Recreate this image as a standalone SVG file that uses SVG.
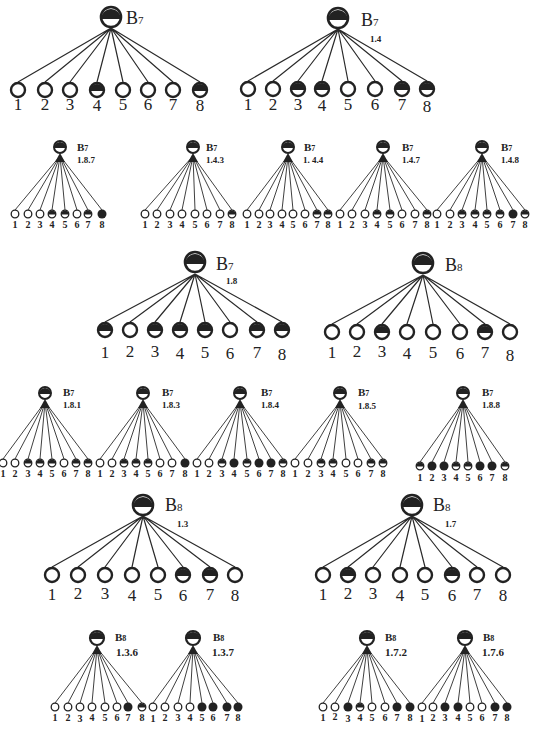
<svg xmlns="http://www.w3.org/2000/svg" xmlns:xlink="http://www.w3.org/1999/xlink" width="533" height="729" viewBox="0 0 533 729">
<style>
.ln{stroke:#2a2a2a;stroke-width:1.2;fill:none}
.ls{stroke:#2a2a2a;stroke-width:0.9;fill:none}
.n{font-family:"Liberation Serif",serif;font-size:17px;fill:#222;text-anchor:middle}
.s{font-family:"Liberation Serif",serif;font-size:10px;font-weight:bold;fill:#222;text-anchor:middle}
.bl{font-family:"Liberation Serif",serif;font-size:18px;fill:#222}
.bs{font-family:"Liberation Serif",serif;font-size:11px;font-weight:bold;fill:#222}
.sub{font-family:"Liberation Serif",serif;font-size:9px;font-weight:bold;fill:#222}
.dk{fill:#222}
.wc{fill:#fff;stroke:#222}
</style>
<defs>
<g id="oL"><circle class="wc" r="7" stroke-width="2.4"/></g>
<g id="hL"><circle class="wc" r="7" stroke-width="2.4"/><path class="dk" d="M-7,1A7,7 0 0 1 7,1Z"/></g>
<g id="fL"><circle class="dk" r="8"/></g>
<g id="oS"><circle class="wc" r="3.8" stroke-width="1.3"/></g>
<g id="hS"><circle class="wc" r="3.8" stroke-width="1.3"/><path class="dk" d="M-3.8,0.5A3.8,3.8 0 0 1 3.8,0.5Z"/></g>
<g id="fS"><circle class="dk" r="4.5"/></g>
<g id="rL"><circle class="wc" r="10" stroke-width="2.6"/><path class="dk" d="M-10,2A10,10 0 0 1 10,2Z"/></g>
<g id="rS"><polygon class="dk" points="0,6 -5,15 5,15"/><circle class="wc" r="6" stroke-width="2"/><path class="dk" d="M-6,1A6,6 0 0 1 6,1Z"/></g>
<g id="rM"><polygon class="dk" points="0,7 -5,16 5,16"/><circle class="wc" r="7" stroke-width="2.2"/><path class="dk" d="M-7,1A7,7 0 0 1 7,1Z"/></g>
</defs>

<g id="connectors">
<path class="ln" d="M111 28L18 82M111 28L45 82M111 28L70 82M111 28L97 82M111 28L123 82M111 28L148 82M111 28L173 82M111 28L200 82"/>
<path class="ln" d="M338 29L248 81M338 29L273 81M338 29L298 81M338 29L322 81M338 29L348 81M338 29L375 81M338 29L402 81M338 29L427 81"/>
<path class="ls" d="M60 156L15 210M60 156L28 210M60 156L40 210M60 156L52 210M60 156L65 210M60 156L77 210M60 156L88 210M60 156L102 210"/>
<path class="ls" d="M193 156L145 210M193 156L157 210M193 156L170 210M193 156L182 210M193 156L195 210M193 156L207 210M193 156L220 210M193 156L232 210"/>
<path class="ls" d="M288 156L247 210M288 156L259 210M288 156L270 210M288 156L282 210M288 156L293 210M288 156L305 210M288 156L317 210M288 156L328 210"/>
<path class="ls" d="M383 156L340 210M383 156L352 210M383 156L365 210M383 156L377 210M383 156L390 210M383 156L402 210M383 156L415 210M383 156L427 210"/>
<path class="ls" d="M482 156L437 210M482 156L450 210M482 156L462 210M482 156L475 210M482 156L487 210M482 156L500 210M482 156L513 210M482 156L525 210"/>
<path class="ln" d="M195 274L105 322M195 274L130 322M195 274L155 322M195 274L180 322M195 274L205 322M195 274L230 322M195 274L257 322M195 274L282 322"/>
<path class="ln" d="M423 275L332 324M423 275L357 324M423 275L382 324M423 275L407 324M423 275L433 324M423 275L460 324M423 275L485 324M423 275L510 324"/>
<path class="ls" d="M45 402L3 459M45 402L15 459M45 402L28 459M45 402L40 459M45 402L52 459M45 402L64 459M45 402L76 459M45 402L88 459"/>
<path class="ls" d="M143 402L100 459M143 402L112 459M143 402L124 459M143 402L136 459M143 402L148 459M143 402L160 459M143 402L172 459M143 402L185 459"/>
<path class="ls" d="M240 402L197 459M240 402L209 459M240 402L222 459M240 402L234 459M240 402L247 459M240 402L259 459M240 402L271 459M240 402L283 459"/>
<path class="ls" d="M340 402L295 459M340 402L308 459M340 402L321 459M340 402L333 459M340 402L346 459M340 402L358 459M340 402L371 459M340 402L383 459"/>
<path class="ls" d="M463 402L420 462M463 402L432 462M463 402L444 462M463 402L456 462M463 402L468 462M463 402L480 462M463 402L492 462M463 402L505 462"/>
<path class="ln" d="M143 516L52 567M143 516L78 567M143 516L105 567M143 516L132 567M143 516L158 567M143 516L183 567M143 516L210 567M143 516L235 567"/>
<path class="ln" d="M412 516L323 567M412 516L348 567M412 516L373 567M412 516L400 567M412 516L425 567M412 516L452 567M412 516L477 567M412 516L503 567"/>
<path class="ls" d="M97 648L55 703M97 648L68 703M97 648L80 703M97 648L92 703M97 648L105 703M97 648L117 703M97 648L128 703M97 648L142 703"/>
<path class="ls" d="M193 648L153 703M193 648L165 703M193 648L178 703M193 648L190 703M193 648L202 703M193 648L213 703M193 648L227 703M193 648L238 703"/>
<path class="ls" d="M367 648L323 703M367 648L335 703M367 648L348 703M367 648L360 703M367 648L372 703M367 648L385 703M367 648L397 703M367 648L410 703"/>
<path class="ls" d="M465 648L422 703M465 648L433 703M465 648L445 703M465 648L458 703M465 648L470 703M465 648L482 703M465 648L495 703M465 648L507 703"/>
</g>

<!-- Tree 1 -->
<g id="t1-root"><use href="#rL" x="111" y="17"/><text class="bl" x="126" y="24">B<tspan font-size="11">7</tspan></text></g>
<g id="t1-1"><use href="#oL" x="18" y="90"/><text class="n" x="18" y="110">1</text></g>
<g id="t1-2"><use href="#oL" x="45" y="90"/><text class="n" x="45" y="110">2</text></g>
<g id="t1-3"><use href="#oL" x="70" y="90"/><text class="n" x="70" y="110">3</text></g>
<g id="t1-4"><use href="#hL" x="97" y="90"/><text class="n" x="97" y="111">4</text></g>
<g id="t1-5"><use href="#oL" x="123" y="90"/><text class="n" x="123" y="110">5</text></g>
<g id="t1-6"><use href="#oL" x="148" y="90"/><text class="n" x="148" y="110">6</text></g>
<g id="t1-7"><use href="#oL" x="173" y="90"/><text class="n" x="173" y="110">7</text></g>
<g id="t1-8"><use href="#hL" x="200" y="90"/><text class="n" x="200" y="111">8</text></g>

<!-- Tree 2 -->
<g id="t2-root"><use href="#rL" x="338" y="18"/><text class="bl" x="361" y="26">B<tspan font-size="11">7</tspan></text><text class="sub" x="370" y="42" font-weight="normal" font-size="10">1.4</text></g>
<g id="t2-1"><use href="#oL" x="248" y="89"/><text class="n" x="248" y="110">1</text></g>
<g id="t2-2"><use href="#oL" x="273" y="89"/><text class="n" x="273" y="110">2</text></g>
<g id="t2-3"><use href="#hL" x="298" y="89"/><text class="n" x="298" y="110">3</text></g>
<g id="t2-4"><use href="#hL" x="322" y="89"/><text class="n" x="322" y="111">4</text></g>
<g id="t2-5"><use href="#oL" x="348" y="89"/><text class="n" x="348" y="110">5</text></g>
<g id="t2-6"><use href="#oL" x="375" y="89"/><text class="n" x="375" y="110">6</text></g>
<g id="t2-7"><use href="#hL" x="402" y="89"/><text class="n" x="402" y="110">7</text></g>
<g id="t2-8"><use href="#hL" x="427" y="89"/><text class="n" x="427" y="112">8</text></g>

<!-- Row 2 -->
<g id="a-root"><use href="#rS" x="60" y="147"/><text class="bs" x="77" y="151">B<tspan font-size="8">7</tspan></text><text class="sub" x="77" y="163">1.8.7</text></g>
<g id="a-1"><use href="#oS" x="15" y="214"/><text class="s" x="15" y="228">1</text></g>
<g id="a-2"><use href="#oS" x="28" y="214"/><text class="s" x="28" y="228">2</text></g>
<g id="a-3"><use href="#oS" x="40" y="214"/><text class="s" x="40" y="228">3</text></g>
<g id="a-4"><use href="#hS" x="52" y="214"/><text class="s" x="52" y="228">4</text></g>
<g id="a-5"><use href="#hS" x="65" y="214"/><text class="s" x="65" y="228">5</text></g>
<g id="a-6"><use href="#oS" x="77" y="214"/><text class="s" x="77" y="228">6</text></g>
<g id="a-7"><use href="#hS" x="88" y="214"/><text class="s" x="88" y="228">7</text></g>
<g id="a-8"><use href="#fS" x="102" y="214"/><text class="s" x="102" y="228">8</text></g>

<g id="b-root"><use href="#rS" x="193" y="147"/><text class="bs" x="206" y="151">B<tspan font-size="8">7</tspan></text><text class="sub" x="206" y="163">1.4.3</text></g>
<g id="b-1"><use href="#oS" x="145" y="214"/><text class="s" x="145" y="228">1</text></g>
<g id="b-2"><use href="#oS" x="157" y="214"/><text class="s" x="157" y="228">2</text></g>
<g id="b-3"><use href="#oS" x="170" y="214"/><text class="s" x="170" y="228">3</text></g>
<g id="b-4"><use href="#oS" x="182" y="214"/><text class="s" x="182" y="228">4</text></g>
<g id="b-5"><use href="#oS" x="195" y="214"/><text class="s" x="195" y="228">5</text></g>
<g id="b-6"><use href="#oS" x="207" y="214"/><text class="s" x="207" y="228">6</text></g>
<g id="b-7"><use href="#oS" x="220" y="214"/><text class="s" x="220" y="228">7</text></g>
<g id="b-8"><use href="#hS" x="232" y="214"/><text class="s" x="232" y="228">8</text></g>

<g id="c-root"><use href="#rS" x="288" y="147"/><text class="bs" x="304" y="151">B<tspan font-size="8">7</tspan></text><text class="sub" x="303" y="163">1. 4.4</text></g>
<g id="c-1"><use href="#oS" x="247" y="214"/><text class="s" x="247" y="228">1</text></g>
<g id="c-2"><use href="#oS" x="259" y="214"/><text class="s" x="259" y="228">2</text></g>
<g id="c-3"><use href="#oS" x="270" y="214"/><text class="s" x="270" y="228">3</text></g>
<g id="c-4"><use href="#oS" x="282" y="214"/><text class="s" x="282" y="228">4</text></g>
<g id="c-5"><use href="#oS" x="293" y="214"/><text class="s" x="293" y="228">5</text></g>
<g id="c-6"><use href="#oS" x="305" y="214"/><text class="s" x="305" y="228">6</text></g>
<g id="c-7"><use href="#hS" x="317" y="214"/><text class="s" x="317" y="228">7</text></g>
<g id="c-8"><use href="#hS" x="328" y="214"/><text class="s" x="328" y="228">8</text></g>

<g id="d-root"><use href="#rS" x="383" y="147"/><text class="bs" x="402" y="151">B<tspan font-size="8">7</tspan></text><text class="sub" x="402" y="163">1.4.7</text></g>
<g id="d-1"><use href="#oS" x="340" y="214"/><text class="s" x="340" y="228">1</text></g>
<g id="d-2"><use href="#oS" x="352" y="214"/><text class="s" x="352" y="228">2</text></g>
<g id="d-3"><use href="#oS" x="365" y="214"/><text class="s" x="365" y="228">3</text></g>
<g id="d-4"><use href="#hS" x="377" y="214"/><text class="s" x="377" y="228">4</text></g>
<g id="d-5"><use href="#hS" x="390" y="214"/><text class="s" x="390" y="228">5</text></g>
<g id="d-6"><use href="#oS" x="402" y="214"/><text class="s" x="402" y="228">6</text></g>
<g id="d-7"><use href="#oS" x="415" y="214"/><text class="s" x="415" y="228">7</text></g>
<g id="d-8"><use href="#hS" x="427" y="214"/><text class="s" x="427" y="228">8</text></g>

<g id="e-root"><use href="#rS" x="482" y="147"/><text class="bs" x="501" y="151">B<tspan font-size="8">7</tspan></text><text class="sub" x="501" y="163">1.4.8</text></g>
<g id="e-1"><use href="#oS" x="437" y="214"/><text class="s" x="437" y="228">1</text></g>
<g id="e-2"><use href="#oS" x="450" y="214"/><text class="s" x="450" y="228">2</text></g>
<g id="e-3"><use href="#hS" x="462" y="214"/><text class="s" x="462" y="228">3</text></g>
<g id="e-4"><use href="#hS" x="475" y="214"/><text class="s" x="475" y="228">4</text></g>
<g id="e-5"><use href="#hS" x="487" y="214"/><text class="s" x="487" y="228">5</text></g>
<g id="e-6"><use href="#hS" x="500" y="214"/><text class="s" x="500" y="228">6</text></g>
<g id="e-7"><use href="#fS" x="513" y="214"/><text class="s" x="513" y="228">7</text></g>
<g id="e-8"><use href="#hS" x="525" y="214"/><text class="s" x="525" y="228">8</text></g>

<!-- Row 3 -->
<g id="t3-root"><use href="#rL" x="195" y="262"/><text class="bl" x="216" y="270">B<tspan font-size="11">7</tspan></text><text class="sub" x="226" y="284" font-size="10">1.8</text></g>
<g id="t3-1"><use href="#hL" x="105" y="330"/><text class="n" x="105" y="358">1</text></g>
<g id="t3-2"><use href="#oL" x="130" y="330"/><text class="n" x="130" y="357">2</text></g>
<g id="t3-3"><use href="#hL" x="155" y="330"/><text class="n" x="155" y="357">3</text></g>
<g id="t3-4"><use href="#hL" x="180" y="330"/><text class="n" x="180" y="359">4</text></g>
<g id="t3-5"><use href="#hL" x="205" y="330"/><text class="n" x="205" y="358">5</text></g>
<g id="t3-6"><use href="#oL" x="230" y="330"/><text class="n" x="230" y="359">6</text></g>
<g id="t3-7"><use href="#hL" x="257" y="330"/><text class="n" x="257" y="358">7</text></g>
<g id="t3-8"><use href="#hL" x="282" y="330"/><text class="n" x="282" y="360">8</text></g>

<g id="u-root"><use href="#rL" x="423" y="263"/><text class="bl" x="445" y="271">B<tspan font-size="11">8</tspan></text></g>
<g id="u-1"><use href="#oL" x="332" y="332"/><text class="n" x="332" y="358">1</text></g>
<g id="u-2"><use href="#oL" x="357" y="332"/><text class="n" x="357" y="357">2</text></g>
<g id="u-3"><use href="#hL" x="382" y="332"/><text class="n" x="382" y="357">3</text></g>
<g id="u-4"><use href="#oL" x="407" y="332"/><text class="n" x="407" y="359">4</text></g>
<g id="u-5"><use href="#oL" x="433" y="332"/><text class="n" x="433" y="358">5</text></g>
<g id="u-6"><use href="#oL" x="460" y="332"/><text class="n" x="460" y="359">6</text></g>
<g id="u-7"><use href="#hL" x="485" y="332"/><text class="n" x="485" y="358">7</text></g>
<g id="u-8"><use href="#oL" x="510" y="332"/><text class="n" x="510" y="361">8</text></g>

<!-- Row 4 -->
<g id="p1-root"><use href="#rS" x="45" y="393"/><text class="bs" x="63" y="396">B<tspan font-size="8">7</tspan></text><text class="sub" x="63" y="408">1.8.1</text></g>
<g id="p1-1"><use href="#oS" x="3" y="463"/><text class="s" x="3" y="477">1</text></g>
<g id="p1-2"><use href="#oS" x="15" y="463"/><text class="s" x="15" y="477">2</text></g>
<g id="p1-3"><use href="#hS" x="28" y="463"/><text class="s" x="28" y="477">3</text></g>
<g id="p1-4"><use href="#hS" x="40" y="463"/><text class="s" x="40" y="477">4</text></g>
<g id="p1-5"><use href="#hS" x="52" y="463"/><text class="s" x="52" y="477">5</text></g>
<g id="p1-6"><use href="#oS" x="64" y="463"/><text class="s" x="64" y="477">6</text></g>
<g id="p1-7"><use href="#hS" x="76" y="463"/><text class="s" x="76" y="477">7</text></g>
<g id="p1-8"><use href="#hS" x="88" y="463"/><text class="s" x="88" y="477">8</text></g>

<g id="p2-root"><use href="#rS" x="143" y="393"/><text class="bs" x="162" y="396">B<tspan font-size="8">7</tspan></text><text class="sub" x="162" y="408">1.8.3</text></g>
<g id="p2-1"><use href="#oS" x="100" y="463"/><text class="s" x="100" y="477">1</text></g>
<g id="p2-2"><use href="#oS" x="112" y="463"/><text class="s" x="112" y="477">2</text></g>
<g id="p2-3"><use href="#hS" x="124" y="463"/><text class="s" x="124" y="477">3</text></g>
<g id="p2-4"><use href="#hS" x="136" y="463"/><text class="s" x="136" y="477">4</text></g>
<g id="p2-5"><use href="#hS" x="148" y="463"/><text class="s" x="148" y="477">5</text></g>
<g id="p2-6"><use href="#oS" x="160" y="463"/><text class="s" x="160" y="477">6</text></g>
<g id="p2-7"><use href="#oS" x="172" y="463"/><text class="s" x="172" y="477">7</text></g>
<g id="p2-8"><use href="#fS" x="185" y="463"/><text class="s" x="185" y="477">8</text></g>

<g id="p3-root"><use href="#rS" x="240" y="393"/><text class="bs" x="261" y="396">B<tspan font-size="8">7</tspan></text><text class="sub" x="261" y="408">1.8.4</text></g>
<g id="p3-1"><use href="#oS" x="197" y="463"/><text class="s" x="197" y="477">1</text></g>
<g id="p3-2"><use href="#oS" x="209" y="463"/><text class="s" x="209" y="477">2</text></g>
<g id="p3-3"><use href="#hS" x="222" y="463"/><text class="s" x="222" y="477">3</text></g>
<g id="p3-4"><use href="#fS" x="234" y="463"/><text class="s" x="234" y="477">4</text></g>
<g id="p3-5"><use href="#hS" x="247" y="463"/><text class="s" x="247" y="477">5</text></g>
<g id="p3-6"><use href="#fS" x="259" y="463"/><text class="s" x="259" y="477">6</text></g>
<g id="p3-7"><use href="#fS" x="271" y="463"/><text class="s" x="271" y="477">7</text></g>
<g id="p3-8"><use href="#hS" x="283" y="463"/><text class="s" x="283" y="477">8</text></g>

<g id="p4-root"><use href="#rS" x="340" y="393"/><text class="bs" x="358" y="396">B<tspan font-size="8">7</tspan></text><text class="sub" x="358" y="409">1.8.5</text></g>
<g id="p4-1"><use href="#oS" x="295" y="463"/><text class="s" x="295" y="477">1</text></g>
<g id="p4-2"><use href="#oS" x="308" y="463"/><text class="s" x="308" y="477">2</text></g>
<g id="p4-3"><use href="#hS" x="321" y="463"/><text class="s" x="321" y="477">3</text></g>
<g id="p4-4"><use href="#hS" x="333" y="463"/><text class="s" x="333" y="477">4</text></g>
<g id="p4-5"><use href="#oS" x="346" y="463"/><text class="s" x="346" y="477">5</text></g>
<g id="p4-6"><use href="#oS" x="358" y="463"/><text class="s" x="358" y="477">6</text></g>
<g id="p4-7"><use href="#hS" x="371" y="463"/><text class="s" x="371" y="477">7</text></g>
<g id="p4-8"><use href="#hS" x="383" y="463"/><text class="s" x="383" y="477">8</text></g>

<g id="p5-root"><use href="#rS" x="463" y="393"/><text class="bs" x="482" y="396">B<tspan font-size="8">7</tspan></text><text class="sub" x="482" y="408">1.8.8</text></g>
<g id="p5-1"><use href="#hS" x="420" y="466"/><text class="s" x="420" y="481">1</text></g>
<g id="p5-2"><use href="#fS" x="432" y="466"/><text class="s" x="432" y="481">2</text></g>
<g id="p5-3"><use href="#fS" x="444" y="466"/><text class="s" x="444" y="481">3</text></g>
<g id="p5-4"><use href="#hS" x="456" y="466"/><text class="s" x="456" y="481">4</text></g>
<g id="p5-5"><use href="#hS" x="468" y="466"/><text class="s" x="468" y="481">5</text></g>
<g id="p5-6"><use href="#fS" x="480" y="466"/><text class="s" x="480" y="481">6</text></g>
<g id="p5-7"><use href="#fS" x="492" y="466"/><text class="s" x="492" y="481">7</text></g>
<g id="p5-8"><use href="#hS" x="505" y="466"/><text class="s" x="505" y="481">8</text></g>

<!-- Row 5 -->
<g id="q1-root"><use href="#rL" x="143" y="505"/><text class="bl" x="165" y="511">B<tspan font-size="11">8</tspan></text><text class="sub" x="177" y="527" font-size="10">1.3</text></g>
<g id="q1-1"><use href="#oL" x="52" y="575"/><text class="n" x="52" y="600">1</text></g>
<g id="q1-2"><use href="#oL" x="78" y="575"/><text class="n" x="78" y="599">2</text></g>
<g id="q1-3"><use href="#oL" x="105" y="575"/><text class="n" x="105" y="599">3</text></g>
<g id="q1-4"><use href="#oL" x="132" y="575"/><text class="n" x="132" y="601">4</text></g>
<g id="q1-5"><use href="#oL" x="158" y="575"/><text class="n" x="158" y="600">5</text></g>
<g id="q1-6"><use href="#hL" x="183" y="575"/><text class="n" x="183" y="601">6</text></g>
<g id="q1-7"><use href="#hL" x="210" y="575"/><text class="n" x="210" y="600">7</text></g>
<g id="q1-8"><use href="#oL" x="235" y="575"/><text class="n" x="235" y="601">8</text></g>

<g id="q2-root"><use href="#rL" x="412" y="505"/><text class="bl" x="433" y="511">B<tspan font-size="11">8</tspan></text><text class="sub" x="445" y="527" font-size="10">1.7</text></g>
<g id="q2-1"><use href="#oL" x="323" y="575"/><text class="n" x="323" y="600">1</text></g>
<g id="q2-2"><use href="#hL" x="348" y="575"/><text class="n" x="348" y="599">2</text></g>
<g id="q2-3"><use href="#oL" x="373" y="575"/><text class="n" x="373" y="599">3</text></g>
<g id="q2-4"><use href="#oL" x="400" y="575"/><text class="n" x="400" y="601">4</text></g>
<g id="q2-5"><use href="#oL" x="425" y="575"/><text class="n" x="425" y="600">5</text></g>
<g id="q2-6"><use href="#hL" x="452" y="575"/><text class="n" x="452" y="601">6</text></g>
<g id="q2-7"><use href="#oL" x="477" y="575"/><text class="n" x="477" y="600">7</text></g>
<g id="q2-8"><use href="#oL" x="503" y="575"/><text class="n" x="503" y="601">8</text></g>

<!-- Row 6 -->
<g id="r1-root"><use href="#rM" x="97" y="638"/><text class="bs" x="115" y="641">B<tspan font-size="8">8</tspan></text><text class="bs" x="116" y="656">1.3.6</text></g>
<g id="r1-1"><use href="#oS" x="55" y="707"/><text class="s" x="55" y="721">1</text></g>
<g id="r1-2"><use href="#oS" x="68" y="707"/><text class="s" x="68" y="721">2</text></g>
<g id="r1-3"><use href="#oS" x="80" y="707"/><text class="s" x="80" y="722">3</text></g>
<g id="r1-4"><use href="#oS" x="92" y="707"/><text class="s" x="92" y="721">4</text></g>
<g id="r1-5"><use href="#oS" x="105" y="707"/><text class="s" x="105" y="721">5</text></g>
<g id="r1-6"><use href="#oS" x="117" y="707"/><text class="s" x="117" y="721">6</text></g>
<g id="r1-7"><use href="#fS" x="128" y="707"/><text class="s" x="128" y="721">7</text></g>
<g id="r1-8"><use href="#hS" x="142" y="707"/><text class="s" x="142" y="721">8</text></g>

<g id="r2-root"><use href="#rM" x="193" y="638"/><text class="bs" x="213" y="641">B<tspan font-size="8">8</tspan></text><text class="bs" x="212" y="656">1.3.7</text></g>
<g id="r2-1"><use href="#oS" x="153" y="707"/><text class="s" x="153" y="722">1</text></g>
<g id="r2-2"><use href="#oS" x="165" y="707"/><text class="s" x="165" y="721">2</text></g>
<g id="r2-3"><use href="#oS" x="178" y="707"/><text class="s" x="178" y="721">3</text></g>
<g id="r2-4"><use href="#oS" x="190" y="707"/><text class="s" x="190" y="721">4</text></g>
<g id="r2-5"><use href="#fS" x="202" y="707"/><text class="s" x="202" y="721">5</text></g>
<g id="r2-6"><use href="#fS" x="213" y="707"/><text class="s" x="213" y="721">6</text></g>
<g id="r2-7"><use href="#fS" x="227" y="707"/><text class="s" x="227" y="721">7</text></g>
<g id="r2-8"><use href="#fS" x="238" y="707"/><text class="s" x="238" y="721">8</text></g>

<g id="r3-root"><use href="#rM" x="367" y="638"/><text class="bs" x="385" y="641">B<tspan font-size="8">8</tspan></text><text class="bs" x="385" y="656">1.7.2</text></g>
<g id="r3-1"><use href="#oS" x="323" y="707"/><text class="s" x="323" y="721">1</text></g>
<g id="r3-2"><use href="#oS" x="335" y="707"/><text class="s" x="335" y="720">2</text></g>
<g id="r3-3"><use href="#fS" x="348" y="707"/><text class="s" x="348" y="722">3</text></g>
<g id="r3-4"><use href="#hS" x="360" y="707"/><text class="s" x="360" y="721">4</text></g>
<g id="r3-5"><use href="#oS" x="372" y="707"/><text class="s" x="372" y="721">5</text></g>
<g id="r3-6"><use href="#oS" x="385" y="707"/><text class="s" x="385" y="721">6</text></g>
<g id="r3-7"><use href="#fS" x="397" y="707"/><text class="s" x="397" y="721">7</text></g>
<g id="r3-8"><use href="#fS" x="410" y="707"/><text class="s" x="410" y="721">8</text></g>

<g id="r4-root"><use href="#rM" x="465" y="638"/><text class="bs" x="483" y="641">B<tspan font-size="8">8</tspan></text><text class="bs" x="482" y="656">1.7.6</text></g>
<g id="r4-1"><use href="#oS" x="422" y="707"/><text class="s" x="422" y="722">1</text></g>
<g id="r4-2"><use href="#oS" x="433" y="707"/><text class="s" x="433" y="721">2</text></g>
<g id="r4-3"><use href="#fS" x="445" y="707"/><text class="s" x="445" y="721">3</text></g>
<g id="r4-4"><use href="#fS" x="458" y="707"/><text class="s" x="458" y="721">4</text></g>
<g id="r4-5"><use href="#oS" x="470" y="707"/><text class="s" x="470" y="721">5</text></g>
<g id="r4-6"><use href="#oS" x="482" y="707"/><text class="s" x="482" y="721">6</text></g>
<g id="r4-7"><use href="#fS" x="495" y="707"/><text class="s" x="495" y="721">7</text></g>
<g id="r4-8"><use href="#fS" x="507" y="707"/><text class="s" x="507" y="721">8</text></g>
</svg>
